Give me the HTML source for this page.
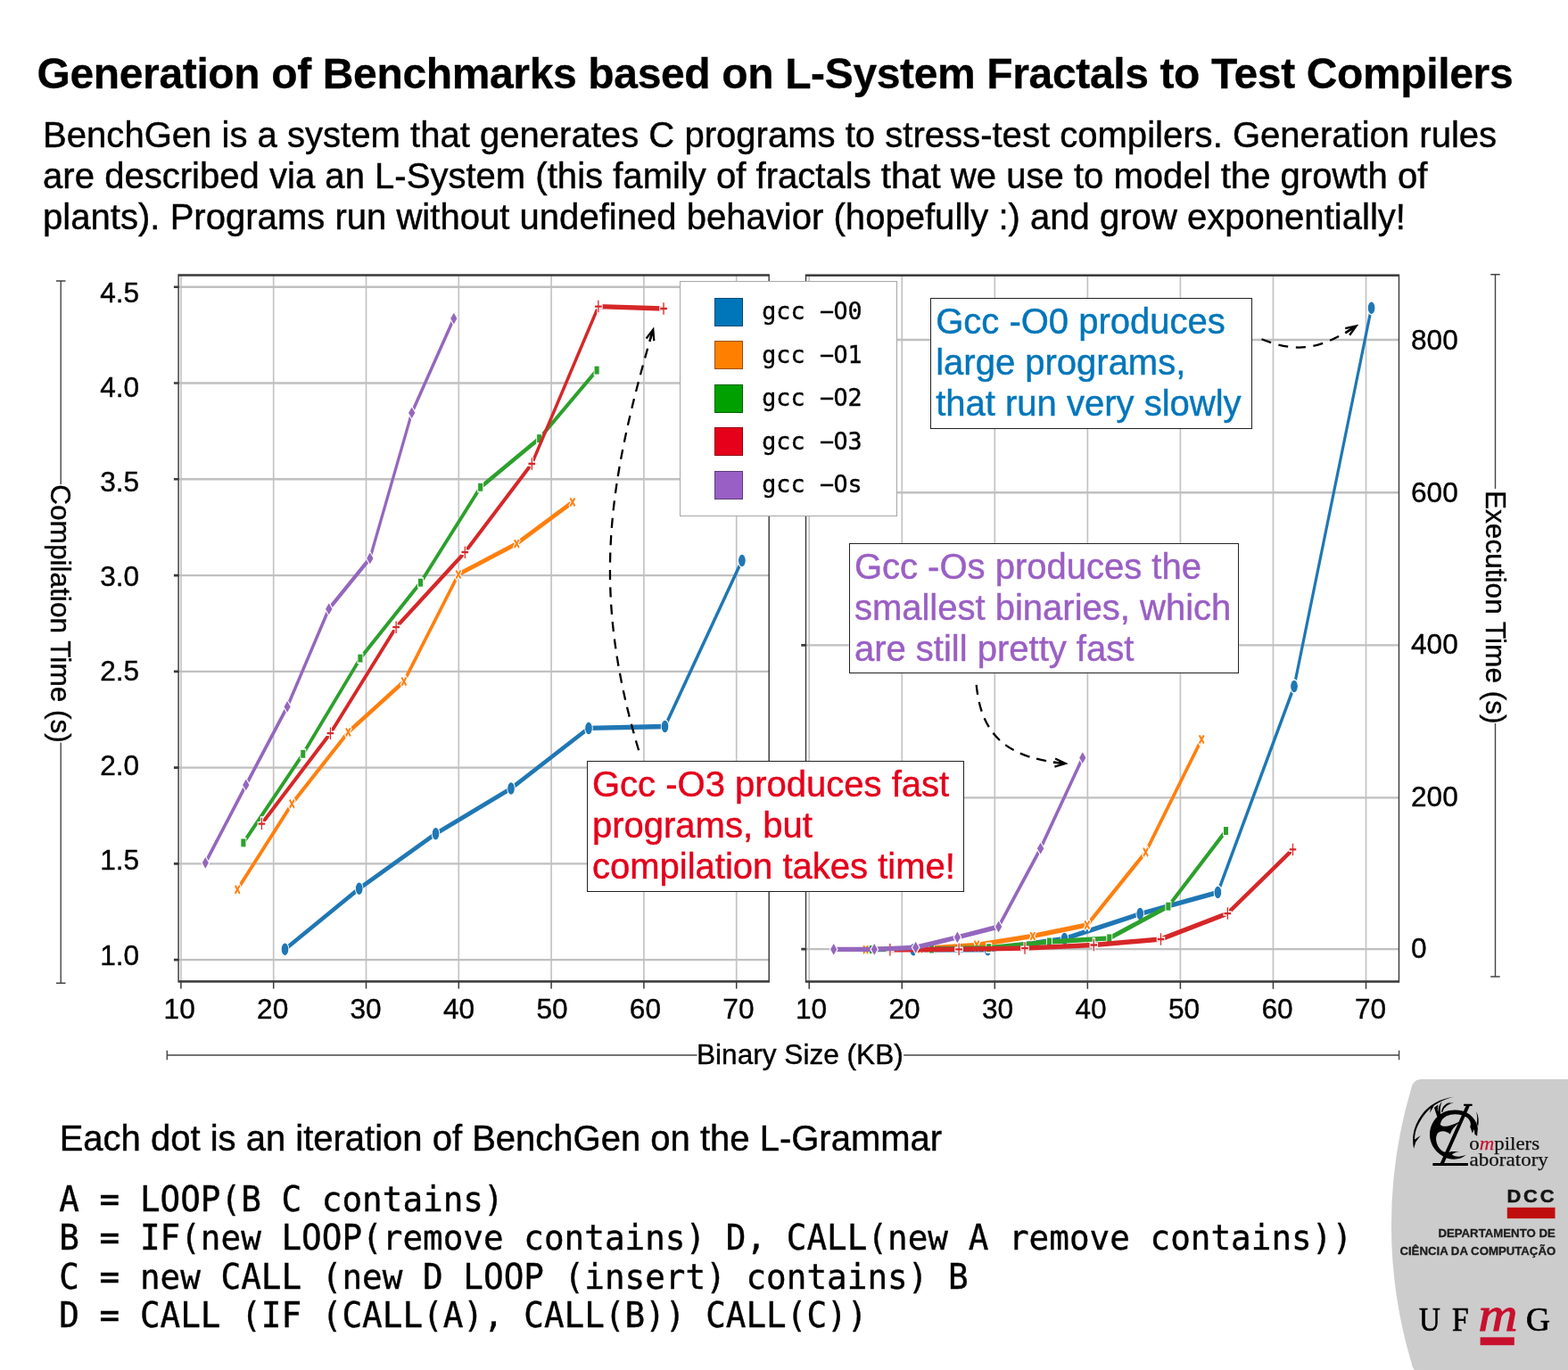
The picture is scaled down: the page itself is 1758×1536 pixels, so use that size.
<!DOCTYPE html>
<html lang="en">
<head>
<meta charset="utf-8">
<title>Generation of Benchmarks based on L-System Fractals to Test Compilers</title>
<style>
html,body{margin:0;padding:0;background:#fff;}
body{width:1758px;height:1536px;position:relative;overflow:hidden;font-family:"Liberation Sans",sans-serif;color:#000;}
h1{position:absolute;margin:0;left:41.5px;top:54.6px;-webkit-text-stroke:0.3px #000;font-size:48px;line-height:56px;font-weight:bold;white-space:nowrap;letter-spacing:-0.36px;}
.lead{letter-spacing:0.03px;position:absolute;margin:0;left:48.1px;top:127.6px;-webkit-text-stroke:0.45px #000;font-size:40px;line-height:46px;white-space:nowrap;}
svg.chart{position:absolute;left:0;top:0;}
svg.logo{position:absolute;left:1540px;top:1200px;}
svg.logo .sf{font-family:"Liberation Serif",serif;}
svg.logo .ss{font-family:"Liberation Sans",sans-serif;font-weight:bold;}
svg.chart text{font-family:"Liberation Sans",sans-serif;fill:#000;stroke:#000;stroke-width:0.4px;}
.note{-webkit-text-stroke:0.45px currentColor;position:absolute;box-sizing:border-box;border:1.3px solid #222;background:#fff;font-size:40px;line-height:46px;white-space:nowrap;margin:0;}
.legend{position:absolute;box-sizing:border-box;left:762px;top:314.6px;width:244.4px;height:264.4px;border:1.2px solid #a6a6a6;background:#fff;margin:0;padding:0;list-style:none;}
.legend li{-webkit-text-stroke:0.4px #000;position:absolute;left:0;height:32px;line-height:32px;font-family:"DejaVu Sans Mono",monospace;font-size:26.67px;white-space:pre;}
.legend i{position:absolute;left:38px;top:0;width:32px;height:32px;box-sizing:border-box;border:0.8px solid rgba(0,0,0,.38);}
.legend span{position:absolute;left:91.3px;top:-0.8px;}
.legend b{display:inline-block;font-weight:normal;transform:translateY(-1.3px) scaleX(2);}
.cap{-webkit-text-stroke:0.45px #000;position:absolute;margin:0;left:66.7px;top:1253.4px;font-size:40px;line-height:46px;white-space:nowrap;}
pre.code{position:absolute;margin:0;left:66.3px;top:1323.3px;transform:scaleY(1.03);transform-origin:0 0;font-family:"DejaVu Sans Mono",monospace;font-size:37.63px;line-height:42.136px;-webkit-text-stroke:0.4px #000;white-space:pre;}
</style>
</head>
<body>
<h1>Generation of Benchmarks based on L-System Fractals to Test Compilers</h1>
<p class="lead">BenchGen is a system that generates C programs to stress-test compilers. Generation rules<br>are described via an L-System (this family of fractals that we use to model the growth of<br>plants). Programs run without undefined behavior (hopefully :) and grow exponentially!</p>
<svg class="chart" width="1758" height="1536" viewBox="0 0 1758 1536">
<g transform="scale(1,1.75)">
<path d="M202.9 176.29V628.8M306.7 176.29V628.8M410.5 176.29V628.8M514.3 176.29V628.8M618.1 176.29V628.8M721.9 176.29V628.8M825.7 176.29V628.8" stroke="#c4c4c4" stroke-width="1.7" fill="none"/>
<path d="M200.1 614.91H862.2M200.1 553.34H862.2M200.1 491.76H862.2M200.1 430.18H862.2M200.1 368.61H862.2M200.1 307.03H862.2M200.1 245.45H862.2M200.1 183.87H862.2" stroke="#c0c0c0" stroke-width="1.35" fill="none"/>
<polyline points="319.5,608.17 402.7,569.31 488.5,534.17 573,505.14 660,466.51 745.5,465.43 831.9,359.09" fill="none" stroke="#1f77b4" stroke-width="3.05" stroke-linejoin="round" stroke-linecap="butt"/>
<circle cx="319.5" cy="608.17" r="4.3" fill="#1f77b4" stroke="#fff" stroke-width="0.9" stroke-linejoin="miter"/><circle cx="402.7" cy="569.31" r="4.3" fill="#1f77b4" stroke="#fff" stroke-width="0.9" stroke-linejoin="miter"/><circle cx="488.5" cy="534.17" r="4.3" fill="#1f77b4" stroke="#fff" stroke-width="0.9" stroke-linejoin="miter"/><circle cx="573" cy="505.14" r="4.3" fill="#1f77b4" stroke="#fff" stroke-width="0.9" stroke-linejoin="miter"/><circle cx="660" cy="466.51" r="4.3" fill="#1f77b4" stroke="#fff" stroke-width="0.9" stroke-linejoin="miter"/><circle cx="745.5" cy="465.43" r="4.3" fill="#1f77b4" stroke="#fff" stroke-width="0.9" stroke-linejoin="miter"/><circle cx="831.9" cy="359.09" r="4.3" fill="#1f77b4" stroke="#fff" stroke-width="0.9" stroke-linejoin="miter"/>
<polyline points="266.2,569.89 327.3,514.97 390.4,469.03 452.9,436.63 513.9,368 579.3,348.29 641.9,321.71" fill="none" stroke="#ff7f0e" stroke-width="3.05" stroke-linejoin="round" stroke-linecap="butt"/>
<path d="M268.18 566.09L270 567.9L268.01 569.89L270 571.87L268.18 573.68L266.2 571.7L264.22 573.68L262.4 571.87L264.39 569.89L262.4 567.9L264.22 566.09L266.2 568.07z" fill="#ff7f0e" stroke="#fff" stroke-width="0.9" stroke-linejoin="miter"/><path d="M329.28 511.18L331.1 512.99L329.11 514.97L331.1 516.95L329.28 518.77L327.3 516.79L325.32 518.77L323.5 516.95L325.49 514.97L323.5 512.99L325.32 511.18L327.3 513.16z" fill="#ff7f0e" stroke="#fff" stroke-width="0.9" stroke-linejoin="miter"/><path d="M392.38 465.23L394.2 467.05L392.21 469.03L394.2 471.01L392.38 472.82L390.4 470.84L388.42 472.82L386.6 471.01L388.59 469.03L386.6 467.05L388.42 465.23L390.4 467.21z" fill="#ff7f0e" stroke="#fff" stroke-width="0.9" stroke-linejoin="miter"/><path d="M454.88 432.83L456.7 434.65L454.71 436.63L456.7 438.61L454.88 440.42L452.9 438.44L450.92 440.42L449.1 438.61L451.09 436.63L449.1 434.65L450.92 432.83L452.9 434.81z" fill="#ff7f0e" stroke="#fff" stroke-width="0.9" stroke-linejoin="miter"/><path d="M515.88 364.2L517.7 366.02L515.71 368L517.7 369.98L515.88 371.8L513.9 369.81L511.92 371.8L510.1 369.98L512.09 368L510.1 366.02L511.92 364.2L513.9 366.19z" fill="#ff7f0e" stroke="#fff" stroke-width="0.9" stroke-linejoin="miter"/><path d="M581.28 344.49L583.1 346.3L581.11 348.29L583.1 350.27L581.28 352.08L579.3 350.1L577.32 352.08L575.5 350.27L577.49 348.29L575.5 346.3L577.32 344.49L579.3 346.47z" fill="#ff7f0e" stroke="#fff" stroke-width="0.9" stroke-linejoin="miter"/><path d="M643.88 317.92L645.7 319.73L643.71 321.71L645.7 323.7L643.88 325.51L641.9 323.53L639.92 325.51L638.1 323.7L640.09 321.71L638.1 319.73L639.92 317.92L641.9 319.9z" fill="#ff7f0e" stroke="#fff" stroke-width="0.9" stroke-linejoin="miter"/>
<polyline points="272.9,539.94 339.8,483.03 403.9,421.77 471.5,373.26 538.7,312.17 604.7,280.91 669.1,237.2" fill="none" stroke="#2ca02c" stroke-width="3.05" stroke-linejoin="round" stroke-linecap="butt"/>
<rect x="269.9" y="536.94" width="6" height="6" fill="#2ca02c" stroke="#fff" stroke-width="0.9" stroke-linejoin="miter"/><rect x="336.8" y="480.03" width="6" height="6" fill="#2ca02c" stroke="#fff" stroke-width="0.9" stroke-linejoin="miter"/><rect x="400.9" y="418.77" width="6" height="6" fill="#2ca02c" stroke="#fff" stroke-width="0.9" stroke-linejoin="miter"/><rect x="468.5" y="370.26" width="6" height="6" fill="#2ca02c" stroke="#fff" stroke-width="0.9" stroke-linejoin="miter"/><rect x="535.7" y="309.17" width="6" height="6" fill="#2ca02c" stroke="#fff" stroke-width="0.9" stroke-linejoin="miter"/><rect x="601.7" y="277.91" width="6" height="6" fill="#2ca02c" stroke="#fff" stroke-width="0.9" stroke-linejoin="miter"/><rect x="666.1" y="234.2" width="6" height="6" fill="#2ca02c" stroke="#fff" stroke-width="0.9" stroke-linejoin="miter"/>
<polyline points="293.4,527.77 370.4,469.83 444.1,401.83 521.3,353.83 596.3,297.14 670.9,196.34 744,197.71" fill="none" stroke="#d62728" stroke-width="3.05" stroke-linejoin="round" stroke-linecap="butt"/>
<path d="M292.3 523.47L294.5 523.47L294.5 526.67L297.7 526.67L297.7 528.87L294.5 528.87L294.5 532.07L292.3 532.07L292.3 528.87L289.1 528.87L289.1 526.67L292.3 526.67z" fill="#d62728" stroke="#fff" stroke-width="0.9" stroke-linejoin="miter"/><path d="M369.3 465.53L371.5 465.53L371.5 468.73L374.7 468.73L374.7 470.93L371.5 470.93L371.5 474.13L369.3 474.13L369.3 470.93L366.1 470.93L366.1 468.73L369.3 468.73z" fill="#d62728" stroke="#fff" stroke-width="0.9" stroke-linejoin="miter"/><path d="M443 397.53L445.2 397.53L445.2 400.73L448.4 400.73L448.4 402.93L445.2 402.93L445.2 406.13L443 406.13L443 402.93L439.8 402.93L439.8 400.73L443 400.73z" fill="#d62728" stroke="#fff" stroke-width="0.9" stroke-linejoin="miter"/><path d="M520.2 349.53L522.4 349.53L522.4 352.73L525.6 352.73L525.6 354.93L522.4 354.93L522.4 358.13L520.2 358.13L520.2 354.93L517 354.93L517 352.73L520.2 352.73z" fill="#d62728" stroke="#fff" stroke-width="0.9" stroke-linejoin="miter"/><path d="M595.2 292.84L597.4 292.84L597.4 296.04L600.6 296.04L600.6 298.24L597.4 298.24L597.4 301.44L595.2 301.44L595.2 298.24L592 298.24L592 296.04L595.2 296.04z" fill="#d62728" stroke="#fff" stroke-width="0.9" stroke-linejoin="miter"/><path d="M669.8 192.04L672 192.04L672 195.24L675.2 195.24L675.2 197.44L672 197.44L672 200.64L669.8 200.64L669.8 197.44L666.6 197.44L666.6 195.24L669.8 195.24z" fill="#d62728" stroke="#fff" stroke-width="0.9" stroke-linejoin="miter"/><path d="M742.9 193.41L745.1 193.41L745.1 196.61L748.3 196.61L748.3 198.81L745.1 198.81L745.1 202.01L742.9 202.01L742.9 198.81L739.7 198.81L739.7 196.61L742.9 196.61z" fill="#d62728" stroke="#fff" stroke-width="0.9" stroke-linejoin="miter"/>
<polyline points="230.3,552.8 275.8,502.91 322.1,452.8 368.75,390.11 414.8,357.71 461.7,264.51 508.8,204.06" fill="none" stroke="#9467bd" stroke-width="3.05" stroke-linejoin="round" stroke-linecap="butt"/>
<path d="M230.3 548.5l4.3 4.3l-4.3 4.3l-4.3 -4.3z" fill="#9467bd" stroke="#fff" stroke-width="0.9" stroke-linejoin="miter"/><path d="M275.8 498.61l4.3 4.3l-4.3 4.3l-4.3 -4.3z" fill="#9467bd" stroke="#fff" stroke-width="0.9" stroke-linejoin="miter"/><path d="M322.1 448.5l4.3 4.3l-4.3 4.3l-4.3 -4.3z" fill="#9467bd" stroke="#fff" stroke-width="0.9" stroke-linejoin="miter"/><path d="M368.75 385.81l4.3 4.3l-4.3 4.3l-4.3 -4.3z" fill="#9467bd" stroke="#fff" stroke-width="0.9" stroke-linejoin="miter"/><path d="M414.8 353.41l4.3 4.3l-4.3 4.3l-4.3 -4.3z" fill="#9467bd" stroke="#fff" stroke-width="0.9" stroke-linejoin="miter"/><path d="M461.7 260.21l4.3 4.3l-4.3 4.3l-4.3 -4.3z" fill="#9467bd" stroke="#fff" stroke-width="0.9" stroke-linejoin="miter"/><path d="M508.8 199.76l4.3 4.3l-4.3 4.3l-4.3 -4.3z" fill="#9467bd" stroke="#fff" stroke-width="0.9" stroke-linejoin="miter"/>
<path d="M202.9 628.8v4.69M306.7 628.8v4.69M410.5 628.8v4.69M514.3 628.8v4.69M618.1 628.8v4.69M721.9 628.8v4.69M825.7 628.8v4.69M200.1 614.91h-5.2M200.1 553.34h-5.2M200.1 491.76h-5.2M200.1 430.18h-5.2M200.1 368.61h-5.2M200.1 307.03h-5.2M200.1 245.45h-5.2M200.1 183.87h-5.2" stroke="#3a3a3a" stroke-width="1.5" fill="none"/>
<rect x="200.1" y="176.29" width="662.1" height="452.51" stroke="#3a3a3a" stroke-width="1.45" fill="none"/>
<path d="M907.2 176.4V628.86M1011.25 176.4V628.86M1115.3 176.4V628.86M1219.35 176.4V628.86M1323.4 176.4V628.86M1427.45 176.4V628.86M1531.5 176.4V628.86" stroke="#c4c4c4" stroke-width="1.7" fill="none"/>
<path d="M903.5 608.06H1568.45M903.5 511.09H1568.45M903.5 413.37H1568.45M903.5 315.54H1568.45M903.5 217.71H1568.45" stroke="#c0c0c0" stroke-width="1.35" fill="none"/>
<polyline points="1024.1,608.4 1107.5,608.4 1193.5,601.43 1278.2,585.49 1365.4,571.71 1451,439.77 1537.6,197.26" fill="none" stroke="#1f77b4" stroke-width="3.1" stroke-linejoin="round" stroke-linecap="butt"/>
<circle cx="1024.1" cy="608.4" r="4.3" fill="#1f77b4" stroke="#fff" stroke-width="0.9" stroke-linejoin="miter"/><circle cx="1107.5" cy="608.4" r="4.3" fill="#1f77b4" stroke="#fff" stroke-width="0.9" stroke-linejoin="miter"/><circle cx="1193.5" cy="601.43" r="4.3" fill="#1f77b4" stroke="#fff" stroke-width="0.9" stroke-linejoin="miter"/><circle cx="1278.2" cy="585.49" r="4.3" fill="#1f77b4" stroke="#fff" stroke-width="0.9" stroke-linejoin="miter"/><circle cx="1365.4" cy="571.71" r="4.3" fill="#1f77b4" stroke="#fff" stroke-width="0.9" stroke-linejoin="miter"/><circle cx="1451" cy="439.77" r="4.3" fill="#1f77b4" stroke="#fff" stroke-width="0.9" stroke-linejoin="miter"/><circle cx="1537.6" cy="197.26" r="4.3" fill="#1f77b4" stroke="#fff" stroke-width="0.9" stroke-linejoin="miter"/>
<polyline points="970.6,608.29 1031.9,607.83 1095.1,605.37 1157.8,599.71 1218.9,592.57 1284.5,545.94 1347.2,473.66" fill="none" stroke="#ff7f0e" stroke-width="3.1" stroke-linejoin="round" stroke-linecap="butt"/>
<path d="M972.58 604.49L974.4 606.3L972.41 608.29L974.4 610.27L972.58 612.08L970.6 610.1L968.62 612.08L966.8 610.27L968.79 608.29L966.8 606.3L968.62 604.49L970.6 606.47z" fill="#ff7f0e" stroke="#fff" stroke-width="0.9" stroke-linejoin="miter"/><path d="M1033.88 604.03L1035.7 605.85L1033.71 607.83L1035.7 609.81L1033.88 611.62L1031.9 609.64L1029.92 611.62L1028.1 609.81L1030.09 607.83L1028.1 605.85L1029.92 604.03L1031.9 606.01z" fill="#ff7f0e" stroke="#fff" stroke-width="0.9" stroke-linejoin="miter"/><path d="M1097.08 601.58L1098.9 603.39L1096.91 605.37L1098.9 607.35L1097.08 609.17L1095.1 607.19L1093.12 609.17L1091.3 607.35L1093.29 605.37L1091.3 603.39L1093.12 601.58L1095.1 603.56z" fill="#ff7f0e" stroke="#fff" stroke-width="0.9" stroke-linejoin="miter"/><path d="M1159.78 595.92L1161.6 597.73L1159.61 599.71L1161.6 601.7L1159.78 603.51L1157.8 601.53L1155.82 603.51L1154 601.7L1155.99 599.71L1154 597.73L1155.82 595.92L1157.8 597.9z" fill="#ff7f0e" stroke="#fff" stroke-width="0.9" stroke-linejoin="miter"/><path d="M1220.88 588.78L1222.7 590.59L1220.71 592.57L1222.7 594.55L1220.88 596.37L1218.9 594.39L1216.92 596.37L1215.1 594.55L1217.09 592.57L1215.1 590.59L1216.92 588.78L1218.9 590.76z" fill="#ff7f0e" stroke="#fff" stroke-width="0.9" stroke-linejoin="miter"/><path d="M1286.48 542.15L1288.3 543.96L1286.31 545.94L1288.3 547.92L1286.48 549.74L1284.5 547.76L1282.52 549.74L1280.7 547.92L1282.69 545.94L1280.7 543.96L1282.52 542.15L1284.5 544.13z" fill="#ff7f0e" stroke="#fff" stroke-width="0.9" stroke-linejoin="miter"/><path d="M1349.18 469.86L1351 471.68L1349.01 473.66L1351 475.64L1349.18 477.45L1347.2 475.47L1345.22 477.45L1343.4 475.64L1345.39 473.66L1343.4 471.68L1345.22 469.86L1347.2 471.84z" fill="#ff7f0e" stroke="#fff" stroke-width="0.9" stroke-linejoin="miter"/>
<polyline points="977.4,608.29 1044.4,608 1108.7,607.26 1176.4,603.43 1243.8,601.09 1309.9,580.69 1374.5,532.29" fill="none" stroke="#2ca02c" stroke-width="3.1" stroke-linejoin="round" stroke-linecap="butt"/>
<rect x="974.4" y="605.29" width="6" height="6" fill="#2ca02c" stroke="#fff" stroke-width="0.9" stroke-linejoin="miter"/><rect x="1041.4" y="605" width="6" height="6" fill="#2ca02c" stroke="#fff" stroke-width="0.9" stroke-linejoin="miter"/><rect x="1105.7" y="604.26" width="6" height="6" fill="#2ca02c" stroke="#fff" stroke-width="0.9" stroke-linejoin="miter"/><rect x="1173.4" y="600.43" width="6" height="6" fill="#2ca02c" stroke="#fff" stroke-width="0.9" stroke-linejoin="miter"/><rect x="1240.8" y="598.09" width="6" height="6" fill="#2ca02c" stroke="#fff" stroke-width="0.9" stroke-linejoin="miter"/><rect x="1306.9" y="577.69" width="6" height="6" fill="#2ca02c" stroke="#fff" stroke-width="0.9" stroke-linejoin="miter"/><rect x="1371.5" y="529.29" width="6" height="6" fill="#2ca02c" stroke="#fff" stroke-width="0.9" stroke-linejoin="miter"/>
<polyline points="997.9,608.46 1075.1,608.17 1149,607.49 1226.3,605.43 1301.5,601.71 1376.3,585.2 1449.5,544.23" fill="none" stroke="#d62728" stroke-width="3.1" stroke-linejoin="round" stroke-linecap="butt"/>
<path d="M996.8 604.16L999 604.16L999 607.36L1002.2 607.36L1002.2 609.56L999 609.56L999 612.76L996.8 612.76L996.8 609.56L993.6 609.56L993.6 607.36L996.8 607.36z" fill="#d62728" stroke="#fff" stroke-width="0.9" stroke-linejoin="miter"/><path d="M1074 603.87L1076.2 603.87L1076.2 607.07L1079.4 607.07L1079.4 609.27L1076.2 609.27L1076.2 612.47L1074 612.47L1074 609.27L1070.8 609.27L1070.8 607.07L1074 607.07z" fill="#d62728" stroke="#fff" stroke-width="0.9" stroke-linejoin="miter"/><path d="M1147.9 603.19L1150.1 603.19L1150.1 606.39L1153.3 606.39L1153.3 608.59L1150.1 608.59L1150.1 611.79L1147.9 611.79L1147.9 608.59L1144.7 608.59L1144.7 606.39L1147.9 606.39z" fill="#d62728" stroke="#fff" stroke-width="0.9" stroke-linejoin="miter"/><path d="M1225.2 601.13L1227.4 601.13L1227.4 604.33L1230.6 604.33L1230.6 606.53L1227.4 606.53L1227.4 609.73L1225.2 609.73L1225.2 606.53L1222 606.53L1222 604.33L1225.2 604.33z" fill="#d62728" stroke="#fff" stroke-width="0.9" stroke-linejoin="miter"/><path d="M1300.4 597.41L1302.6 597.41L1302.6 600.61L1305.8 600.61L1305.8 602.81L1302.6 602.81L1302.6 606.01L1300.4 606.01L1300.4 602.81L1297.2 602.81L1297.2 600.61L1300.4 600.61z" fill="#d62728" stroke="#fff" stroke-width="0.9" stroke-linejoin="miter"/><path d="M1375.2 580.9L1377.4 580.9L1377.4 584.1L1380.6 584.1L1380.6 586.3L1377.4 586.3L1377.4 589.5L1375.2 589.5L1375.2 586.3L1372 586.3L1372 584.1L1375.2 584.1z" fill="#d62728" stroke="#fff" stroke-width="0.9" stroke-linejoin="miter"/><path d="M1448.4 539.93L1450.6 539.93L1450.6 543.13L1453.8 543.13L1453.8 545.33L1450.6 545.33L1450.6 548.53L1448.4 548.53L1448.4 545.33L1445.2 545.33L1445.2 543.13L1448.4 543.13z" fill="#d62728" stroke="#fff" stroke-width="0.9" stroke-linejoin="miter"/>
<polyline points="934.7,608.23 980.3,608.23 1026.7,607.03 1073.4,600.51 1119.6,593.71 1166.6,543.6 1213.8,485.49" fill="none" stroke="#9467bd" stroke-width="3.1" stroke-linejoin="round" stroke-linecap="butt"/>
<path d="M934.7 603.93l4.3 4.3l-4.3 4.3l-4.3 -4.3z" fill="#9467bd" stroke="#fff" stroke-width="0.9" stroke-linejoin="miter"/><path d="M980.3 603.93l4.3 4.3l-4.3 4.3l-4.3 -4.3z" fill="#9467bd" stroke="#fff" stroke-width="0.9" stroke-linejoin="miter"/><path d="M1026.7 602.73l4.3 4.3l-4.3 4.3l-4.3 -4.3z" fill="#9467bd" stroke="#fff" stroke-width="0.9" stroke-linejoin="miter"/><path d="M1073.4 596.21l4.3 4.3l-4.3 4.3l-4.3 -4.3z" fill="#9467bd" stroke="#fff" stroke-width="0.9" stroke-linejoin="miter"/><path d="M1119.6 589.41l4.3 4.3l-4.3 4.3l-4.3 -4.3z" fill="#9467bd" stroke="#fff" stroke-width="0.9" stroke-linejoin="miter"/><path d="M1166.6 539.3l4.3 4.3l-4.3 4.3l-4.3 -4.3z" fill="#9467bd" stroke="#fff" stroke-width="0.9" stroke-linejoin="miter"/><path d="M1213.8 481.19l4.3 4.3l-4.3 4.3l-4.3 -4.3z" fill="#9467bd" stroke="#fff" stroke-width="0.9" stroke-linejoin="miter"/>
<path d="M907.2 628.86v4.69M1011.25 628.86v4.69M1115.3 628.86v4.69M1219.35 628.86v4.69M1323.4 628.86v4.69M1427.45 628.86v4.69M1531.5 628.86v4.69M903.5 608.06h-5.2M903.5 511.09h-5.2M903.5 413.37h-5.2M903.5 315.54h-5.2M903.5 217.71h-5.2" stroke="#3a3a3a" stroke-width="1.5" fill="none"/>
<rect x="903.5" y="176.4" width="664.95" height="452.46" stroke="#3a3a3a" stroke-width="1.45" fill="none"/>
</g>
<path d="M63 315h10.5M68.2 315V543M68.2 832.5V1102.3M63 1102.3h10.5" stroke="#444444" stroke-width="1.4" fill="none"/>
<path d="M1671.2 307.8h10.5M1676.5 307.8V548M1676.5 811V1095M1671.2 1095h10.5" stroke="#444444" stroke-width="1.4" fill="none"/>
<path d="M187.3 1177.8v10.5M187.3 1183H781.5M1013.2 1183H1568.6M1568.6 1177.8v10.5" stroke="#444444" stroke-width="1.4" fill="none"/>
<text x="781" y="1193" font-size="31.6">Binary Size (KB)</text>
<text transform="translate(56.6 543.2) rotate(90)" font-size="31.6">Compilation Time (s)</text>
<text transform="translate(1665.6 550) rotate(90)" font-size="31.6">Execution Time (s)</text>
<g font-size="31.6" text-anchor="end">
<text x="156.2" y="338.6">4.5</text>
<text x="156.2" y="444.73">4.0</text>
<text x="156.2" y="550.86">3.5</text>
<text x="156.2" y="656.99">3.0</text>
<text x="156.2" y="763.12">2.5</text>
<text x="156.2" y="869.25">2.0</text>
<text x="156.2" y="975.38">1.5</text>
<text x="156.2" y="1081.51">1.0</text>
</g>
<g font-size="31.6">
<text x="1582" y="392">800</text>
<text x="1582" y="562.55">600</text>
<text x="1582" y="733.1">400</text>
<text x="1582" y="903.65">200</text>
<text x="1582" y="1074.2">0</text>
</g>
<g font-size="31.6" text-anchor="middle">
<text x="201.2" y="1141.8">10</text>
<text x="305.65" y="1141.8">20</text>
<text x="410.1" y="1141.8">30</text>
<text x="514.55" y="1141.8">40</text>
<text x="619" y="1141.8">50</text>
<text x="723.45" y="1141.8">60</text>
<text x="827.9" y="1141.8">70</text>
<text x="909.6" y="1141.8">10</text>
<text x="1014.1" y="1141.8">20</text>
<text x="1118.6" y="1141.8">30</text>
<text x="1223.1" y="1141.8">40</text>
<text x="1327.6" y="1141.8">50</text>
<text x="1432.1" y="1141.8">60</text>
<text x="1536.6" y="1141.8">70</text>
</g>
<path d="M716.1 841.2C663.1 663.8 680.4 545.4 733.05 366.8" fill="none" stroke="#000" stroke-width="2.3" stroke-dasharray="11.1 8.34"/>
<path d="M724.6 379.49L732.26 369.49L733.26 382.05M728.41 382.53L732.12 369.97" fill="none" stroke="#000" stroke-width="2.3" stroke-linejoin="miter" stroke-miterlimit="10"/>
<path d="M1094.7 767.9C1100.4 827.6 1132.5 851.1 1197.3 856.2" fill="none" stroke="#000" stroke-width="2.3" stroke-dasharray="11.1 8.17"/>
<path d="M1183.14 850.56L1194.51 855.98L1182.43 859.56M1180.85 854.91L1194.01 855.94" fill="none" stroke="#000" stroke-width="2.3" stroke-linejoin="miter" stroke-miterlimit="10"/>
<path d="M1414.5 380.3C1456.35 396.8 1481 391.3 1522.9 364" fill="none" stroke="#000" stroke-width="2.3" stroke-dasharray="11.1 8.67"/>
<path d="M1508.23 368.17L1520.55 365.53L1513.16 375.73M1508.24 373.55L1520.14 365.8" fill="none" stroke="#000" stroke-width="2.3" stroke-linejoin="miter" stroke-miterlimit="10"/>
</svg>
<ul class="legend">
<li style="top:18.2px"><i style="background:#0076ba"></i><span>gcc <b>-</b>O0</span></li>
<li style="top:66.75px"><i style="background:#ff8000"></i><span>gcc <b>-</b>O1</span></li>
<li style="top:115.3px"><i style="background:#00a000"></i><span>gcc <b>-</b>O2</span></li>
<li style="top:163.85px"><i style="background:#e6001a"></i><span>gcc <b>-</b>O3</span></li>
<li style="top:212.4px"><i style="background:#9a5fc4"></i><span>gcc <b>-</b>Os</span></li>
</ul>
<p class="note" style="left:1042.8px;top:333.7px;width:361.4px;height:147.1px;padding:2.43px 0 0 5.4px;color:#0076ba">Gcc -O0 produces<br>large programs,<br>that run very slowly</p>
<p class="note" style="left:951.8px;top:608.5px;width:437.2px;height:146.7px;padding:2.33px 0 0 5.1px;color:#9a5fc4">Gcc -Os produces the<br>smallest binaries, which<br>are still pretty fast</p>
<p class="note" style="left:657.7px;top:853px;width:423.5px;height:146.9px;padding:2.23px 0 0 5.3px;color:#e4001b">Gcc -O3 produces fast<br>programs, but<br>compilation takes time!</p>
<p class="cap">Each dot is an iteration of BenchGen on the L-Grammar</p>
<pre class="code">A = LOOP(B C contains)
B = IF(new LOOP(remove contains) D, CALL(new A remove contains))
C = new CALL (new D LOOP (insert) contains) B
D = CALL (IF (CALL(A), CALL(B)) CALL(C))</pre>
<svg class="logo" width="218" height="336" viewBox="1540 1200 218 336">
<path d="M1760 1210H1594C1588 1210 1584 1213 1582.3 1220A540 540 0 0 0 1582.6 1528.5C1584 1536 1588 1538.6 1594 1538.6H1760Z" fill="#cccccc"/>
<g transform="translate(1575 1220) scale(0.0651)" fill="#000" stroke="none">
<path d="M155 1040C115 850 150 650 290 460C410 300 610 175 845 155C650 190 450 310 325 475C210 630 165 780 170 885L272 818L190 925Z"/>
<path d="M432 425L448 330L505 300Z"/>
<path d="M505 335L575 285L565 380L640 470L560 500Z"/>
<path d="M585 440C565 370 580 300 640 230C610 300 605 370 615 430Z"/>
<path d="M630 410C640 330 690 270 790 235C710 290 670 340 655 410Z"/>
<path d="M665 330C710 270 770 245 845 255C780 265 720 295 690 340Z"/>
<path d="M1060 1150C960 1235 800 1255 660 1175C515 1095 430 955 430 800C430 640 520 480 680 410C820 350 1000 370 1100 440C1185 500 1245 585 1258 690L1245 825L1205 795L1195 705L1165 775L1125 665C1150 600 1120 540 1060 500C960 440 820 430 720 480C660 510 620 560 612 625C650 680 770 665 962 568C880 640 805 705 782 795C720 730 620 722 570 772C520 835 530 950 600 1040C650 1100 725 1130 800 1090L945 1090C880 1100 832 1120 812 1150C880 1192 980 1182 1060 1150Z"/>
<path d="M1232 405C1272 480 1280 570 1262 660L1238 610C1252 545 1248 475 1232 405Z"/>
<path d="M1015 272H1162V308H1118L678 1290H1090V1336H482V1290H612L1052 308H1015Z"/>
</g>
<g class="sf" font-size="21.5" fill="#111" stroke="#111" stroke-width="0.25">
<text x="1647.2" y="1288.7" textLength="79" lengthAdjust="spacingAndGlyphs">o<tspan fill="#c8102e" stroke="#c8102e" font-style="italic">m</tspan>pilers</text>
<text x="1647.6" y="1306.7" textLength="88.3" lengthAdjust="spacingAndGlyphs">aboratory</text>
</g>
<text x="1689.6" y="1348.2" class="ss" font-size="20.6" fill="#141414" stroke="#141414" stroke-width="0.5" letter-spacing="2.6" textLength="55.6" lengthAdjust="spacingAndGlyphs">DCC</text>
<rect x="1689.8" y="1353.8" width="53.7" height="12.3" fill="#c00d0d"/>
<g class="ss" font-size="13.2" fill="#1c1c1c" stroke="#1c1c1c" stroke-width="0.3" text-anchor="end">
<text x="1743.8" y="1386.9" textLength="131.4" lengthAdjust="spacingAndGlyphs">DEPARTAMENTO DE</text>
<text x="1744.2" y="1406.9" textLength="174.8" lengthAdjust="spacingAndGlyphs">CIÊNCIA DA COMPUTAÇÃO</text>
</g>
<g class="sf" font-size="37.5" fill="#000" stroke="#000" stroke-width="0.7">
<text x="1591" y="1491.8" textLength="23.8" lengthAdjust="spacingAndGlyphs">U</text>
<text x="1628" y="1491.8" textLength="18.6" lengthAdjust="spacingAndGlyphs">F</text>
<text x="1657.5" y="1491.8" font-size="55" font-style="italic" fill="#c8102e" stroke="#c8102e" stroke-width="1.1" textLength="44" lengthAdjust="spacingAndGlyphs">m</text>
<text x="1711" y="1491.8" textLength="27" lengthAdjust="spacingAndGlyphs">G</text>
</g>
<rect x="1659.6" y="1499.3" width="38.2" height="8.9" fill="#c8102e"/>
</svg>
</body>
</html>
